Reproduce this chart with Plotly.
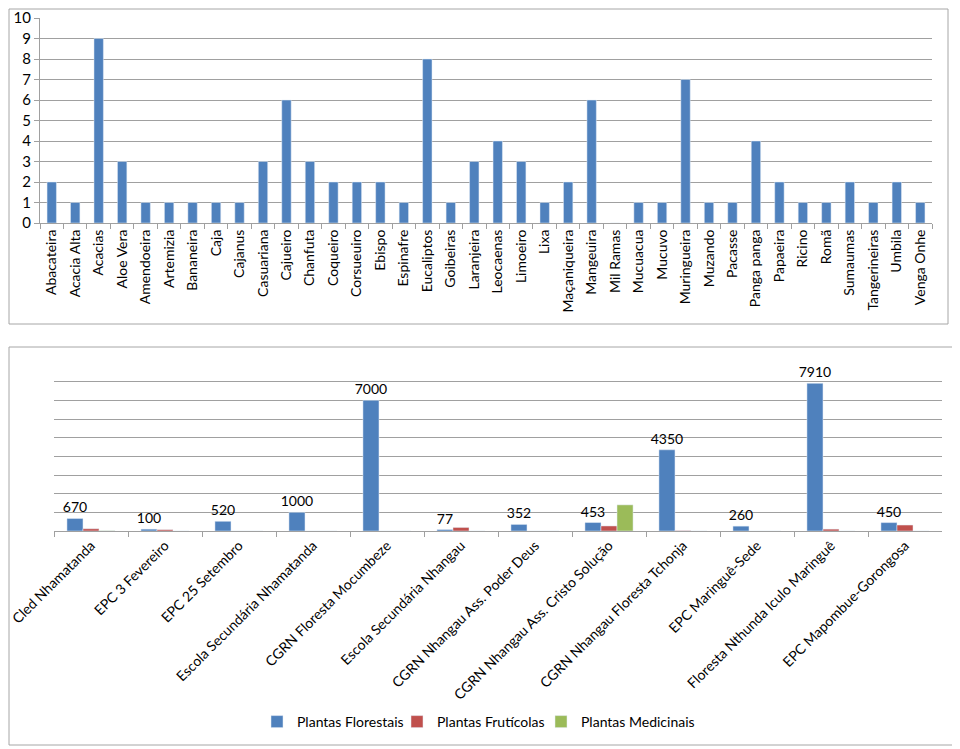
import plotly.graph_objects as go
from plotly.subplots import make_subplots

# top chart: number of species
especies = ["Abacateira", "Acacia Alta", "Acacias", "Aloe Vera", "Amendoeira", "Artemizia",
            "Bananeira", "Caja", "Cajanus", "Casuariana", "Cajueiro", "Chanfuta", "Coqueiro",
            "Corsueuiro", "Ebispo", "Espinafre", "Eucaliptos", "Goibeiras", "Laranjeira",
            "Leocaenas", "Limoeiro", "Lixa", "Maçaniqueira", "Mangeuira", "Mil Ramas",
            "Mucuacua", "Mucuvo", "Muringueira", "Muzando", "Pacasse", "Panga panga",
            "Papaeira", "Ricino", "Romã", "Sumaumas", "Tangerineiras", "Umbila", "Venga Onhe"]
contagem = [2, 1, 9, 3, 1, 1, 1, 1, 1, 3, 6, 3, 2, 2, 2, 1, 8, 1, 3,
            4, 3, 1, 2, 6, 0, 1, 1, 7, 1, 1, 4, 2, 1, 1, 2, 1, 2, 1]

# bottom chart: plants per site
locais = ["Cled Nhamatanda", "EPC 3 Fevereiro", "EPC 25 Setembro",
          "Escola Secundária Nhamatanda", "CGRN Floresta Mocumbeze",
          "Escola Secundária Nhangau", "CGRN Nhangau Ass. Poder Deus",
          "CGRN Nhangau Ass. Cristo Solução", "CGRN Nhangau Floresta Tchonja",
          "EPC Maringuê-Sede", "Floresta Nthunda Iculo Maringuê", "EPC Mapombue-Gorongosa"]
florestais = [670, 100, 520, 1000, 7000, 77, 352, 453, 4350, 260, 7910, 450]
fruticolas = [120, 70, 0, 0, 0, 190, 0, 270, 20, 0, 100, 320]
medicinais = [15, 0, 0, 0, 0, 0, 0, 1400, 0, 0, 0, 0]

# the page body has an 8px margin, so the figure is drawn at (8, 8)
OFF = 8
W, H = 960 - OFF, 749 - OFF
FONT = "Lato"
GRID = "#a0a0a0"


def px_x(p):
    return (p - OFF) / W


def px_y(p):
    return 1 - (p - OFF) / H


def legend_at(x_px):
    # one legend per series so each item sits where the original put it
    return dict(orientation="h", x=px_x(x_px), xanchor="left", y=px_y(722),
                yanchor="middle", font=dict(size=14), bgcolor="rgba(0,0,0,0)")


fig = make_subplots(rows=2, cols=1)

fig.add_trace(go.Bar(x=especies, y=contagem, marker_color="#4F81BD",
                     width=0.4, showlegend=False), 1, 1)

fig.add_trace(go.Bar(x=locais, y=florestais, name="Plantas Florestais",
                     marker_color="#4F81BD", text=[str(v) for v in florestais],
                     textposition="outside", textfont=dict(size=14, color="black"),
                     constraintext="none", cliponaxis=False, legend="legend"), 2, 1)
fig.add_trace(go.Bar(x=locais, y=fruticolas, name="Plantas Frutícolas",
                     marker_color="#C0504D", legend="legend2"), 2, 1)
fig.add_trace(go.Bar(x=locais, y=medicinais, name="Plantas Medicinais",
                     marker_color="#9BBB59", legend="legend3"), 2, 1)

fig.update_layout(
    width=W, height=H, margin=dict(l=0, r=0, t=0, b=0),
    paper_bgcolor="white", plot_bgcolor="white",
    font=dict(family=FONT, size=14, color="black"),
    barmode="group", bargap=0.35, bargroupgap=0,
    legend=legend_at(257), legend2=legend_at(397), legend3=legend_at(541),
    showlegend=True,
    shapes=[
        dict(type="rect", xref="paper", yref="paper", x0=px_x(9), x1=px_x(948),
             y0=px_y(324), y1=px_y(9), line=dict(color="#a6a6a6", width=1)),
        dict(type="rect", xref="paper", yref="paper", x0=px_x(9), x1=px_x(955),
             y0=px_y(745), y1=px_y(347), line=dict(color="#a6a6a6", width=1)),
    ],
)

# top chart axes
fig.update_xaxes(domain=[px_x(40), px_x(932)], tickangle=-90, tickson="boundaries",
                 ticks="outside", ticklen=5, tickcolor=GRID, showline=True,
                 linecolor=GRID, tickfont=dict(size=14), automargin=False,
                 row=1, col=1)
fig.update_yaxes(domain=[px_y(223), px_y(18)], range=[0, 10], dtick=1,
                 showgrid=True, gridcolor=GRID, showline=True, linecolor=GRID,
                 ticks="outside", ticklen=5, tickcolor=GRID, zeroline=False,
                 tickfont=dict(size=15), automargin=False, row=1, col=1)

# bottom chart axes
fig.update_xaxes(domain=[px_x(54), px_x(942)], tickangle=-45, tickson="boundaries",
                 ticks="outside", ticklen=5, tickcolor=GRID, showline=True,
                 linecolor=GRID, tickfont=dict(size=14), automargin=False,
                 row=2, col=1)
fig.update_yaxes(domain=[px_y(531), px_y(363)], range=[0, 9000], dtick=1000,
                 showgrid=True, gridcolor=GRID, showticklabels=False,
                 zeroline=False, automargin=False, row=2, col=1)

fig.write_html("out.html")
